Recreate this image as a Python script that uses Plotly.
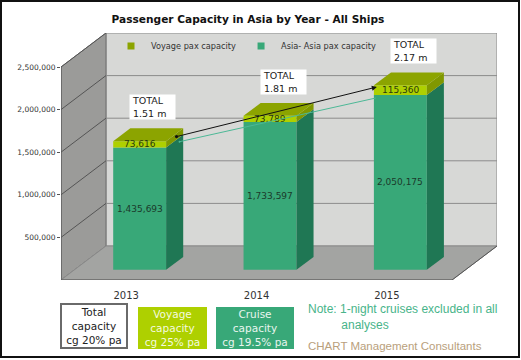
import plotly.graph_objects as go

# ---------------- data ----------------
years = ["2013", "2014", "2015"]
asia_pax = [1435693, 1733597, 2050175]      # Asia- Asia pax capacity
voyage_pax = [73616, 73789, 115360]         # Voyage pax capacity
y_ticks = [500000, 1000000, 1500000, 2000000, 2500000]
growth_boxes = ["Total<br>capacity<br>cg 20% pa",
                "Voyage<br>capacity<br>cg 25% pa",
                "Cruise<br>capacity<br>cg 19.5% pa"]
note_text = "Note: 1-night cruises excluded in all<br>" + "&nbsp;" * 10 + "analyses"
credit = "CHART Management Consultants"

# ---------------- style / geometry ----------------
W, H = 521, 360
ML, MR, MT, MB = 61, 24, 33, 80
YMAX = 2500000
DX = 0.345            # depth offset in x units
DY = 399000           # depth offset in y units
F1, F2 = 0.30, 0.68   # bar front / back depth fractions
BW = 0.406            # bar width

C_GREEN = "#38a878"
C_GREEN_SIDE = "#1f7754"
C_VOY = "#aed000"
C_VOY_TOP = "#8ca400"
C_VOY_SIDE = "#809800"
C_BACK = "#d7d8d6"
C_LEFT = "#9b9b99"
C_FLOOR = "#a3a4a2"
FONT = "DejaVu Sans"

xs = list(range(len(years)))
totals = [a + v for a, v in zip(asia_pax, voyage_pax)]
base0 = F1 * DY
bx = [x + F1 * DX for x in xs]
sdx = (F2 - F1) * DX
sdy = (F2 - F1) * DY

fig = go.Figure()

# front faces
fig.add_trace(go.Bar(x=bx, y=asia_pax, base=[base0] * 3, width=BW,
                     marker=dict(color=C_GREEN, line=dict(width=0)),
                     showlegend=False, hoverinfo="skip"))
fig.add_trace(go.Bar(x=bx, y=voyage_pax, base=[base0 + a for a in asia_pax], width=BW,
                     marker=dict(color=C_VOY, line=dict(width=0)),
                     showlegend=False, hoverinfo="skip"))

# side and top faces computed from the data
for i in xs:
    xl = bx[i] - BW / 2
    xr = bx[i] + BW / 2
    b = base0
    m = base0 + asia_pax[i]
    t = base0 + totals[i]
    for (lo, hi, col) in [(b, m, C_GREEN_SIDE), (m, t, C_VOY_SIDE)]:
        fig.add_trace(go.Scatter(x=[xr, xr + sdx, xr + sdx, xr, xr],
                                 y=[lo, lo + sdy, hi + sdy, hi, lo],
                                 mode="lines", fill="toself", fillcolor=col,
                                 line=dict(width=0, color=col),
                                 showlegend=False, hoverinfo="skip"))
    fig.add_trace(go.Scatter(x=[xl, xr, xr + sdx, xl + sdx, xl],
                             y=[t, t, t + sdy, t + sdy, t],
                             mode="lines", fill="toself", fillcolor=C_VOY_TOP,
                             line=dict(width=0, color=C_VOY_TOP),
                             showlegend=False, hoverinfo="skip"))

# legend entries
fig.add_trace(go.Scatter(x=[None], y=[None], mode="markers", name="Voyage pax capacity",
                         marker=dict(symbol="square", size=7, color=C_VOY_TOP)))
fig.add_trace(go.Scatter(x=[None], y=[None], mode="markers", name="Asia- Asia pax capacity",
                         marker=dict(symbol="square", size=7, color=C_GREEN)))

# ---------------- walls ----------------
x0, x1 = -0.5, len(years) - 0.5
shapes = []
# back wall
shapes.append(dict(type="rect", x0=x0 + DX, x1=x1 + DX, y0=DY, y1=YMAX + DY,
                   fillcolor=C_BACK, line=dict(color="#8a8a8a", width=1), layer="below"))
# left wall
shapes.append(dict(type="path",
                   path=f"M{x0},0 L{x0 + DX},{DY} L{x0 + DX},{YMAX + DY} L{x0},{YMAX} Z",
                   fillcolor=C_LEFT, line=dict(color="#707070", width=1), layer="below"))
# floor
shapes.append(dict(type="path",
                   path=f"M{x0},0 L{x1},0 L{x1 + DX},{DY} L{x0 + DX},{DY} Z",
                   fillcolor=C_FLOOR, line=dict(color="#8a8a8a", width=1), layer="below"))
# grid lines
for v in y_ticks[:-1]:
    shapes.append(dict(type="line", x0=x0 + DX, x1=x1 + DX, y0=v + DY, y1=v + DY,
                       line=dict(color="#8c8c8c", width=1), layer="below"))
for v in y_ticks:
    shapes.append(dict(type="line", x0=x0, x1=x0 + DX, y0=v, y1=v + DY,
                       line=dict(color="#555555", width=1), layer="below"))
# front edges
shapes.append(dict(type="line", x0=x0, x1=x1, y0=0, y1=0,
                   line=dict(color="#555555", width=1), layer="below"))
shapes.append(dict(type="line", x0=x0, x1=x0, y0=0, y1=YMAX,
                   line=dict(color="#555555", width=1), layer="below"))
shapes.append(dict(type="line", x0=x1, x1=x1 + DX, y0=0, y1=DY,
                   line=dict(color="#555555", width=1), layer="below"))

# outer border (paper coords from pixel positions)
def px(p):
    return (p - ML) / (W - ML - MR)

def py(p):
    return (H - MB - p) / (H - MT - MB)

shapes.append(dict(type="rect", xref="paper", yref="paper",
                   x0=px(1), x1=px(519), y0=py(1), y1=py(357),
                   line=dict(color="#111111", width=2), fillcolor="rgba(0,0,0,0)"))

annotations = []
# value labels
for i in xs:
    annotations.append(dict(x=bx[i], y=base0 + asia_pax[i] / 2, text=f"{asia_pax[i]:,}",
                            showarrow=False, font=dict(family=FONT, size=9, color="#1b3a2b")))
    annotations.append(dict(x=bx[i], y=base0 + asia_pax[i] + voyage_pax[i] / 2,
                            text=f"{voyage_pax[i]:,}",
                            showarrow=False, font=dict(family=FONT, size=9, color="#2a3a10")))
    annotations.append(dict(x=xs[i] + 0.025, y=base0 + totals[i], yshift=21,
                            xanchor="left", yanchor="bottom", align="left",
                            text=f"TOTAL<br>{totals[i] / 1e6:.2f} m", showarrow=False,
                            bgcolor="white", borderpad=2, width=41, height=20,
                            font=dict(family=FONT, size=9.5, color="#222222")))

# trend lines
annotations.append(dict(x=xs[2] - 0.085, y=asia_pax[2] + base0 - 34000,
                        ax=xs[0] + 0.398, ay=asia_pax[0] + base0 + 64000,
                        axref="x", ayref="y", text="", showarrow=True,
                        arrowside="start", startarrowhead=6, startarrowsize=0.5,
                        arrowwidth=1, arrowcolor="#4cb896"))
annotations.append(dict(x=xs[2] - 0.077, y=totals[2] + base0 - 20000,
                        ax=xs[0] + 0.375, ay=totals[0] + base0 + 50000,
                        axref="x", ayref="y", text="", showarrow=True,
                        arrowside="end+start", arrowhead=2, arrowsize=1,
                        startarrowhead=6, startarrowsize=0.8,
                        arrowwidth=1, arrowcolor="#111111"))

# growth boxes
box_specs = [(94, 326, "white", "#222222", "#6a6a6a", 2, 64, 42),
             (172.5, 328, C_VOY, "#f4fadf", C_VOY, 0, 69, 42),
             (255, 328, C_GREEN, "#e9f5ef", C_GREEN, 0, 78, 42)]
for txt, (cx, cy, bg, fc, bc, bw, w, h) in zip(growth_boxes, box_specs):
    annotations.append(dict(xref="paper", yref="paper", x=px(cx), y=py(cy),
                            xanchor="center", yanchor="middle", text=txt, showarrow=False,
                            bgcolor=bg, bordercolor=bc, borderwidth=bw, borderpad=0,
                            width=w, height=h, align="center",
                            font=dict(family=FONT, size=10.5, color=fc)))

# notes
annotations.append(dict(xref="paper", yref="paper", x=px(306), y=py(317), xanchor="left",
                        yanchor="middle", text=note_text, showarrow=False, align="left",
                        font=dict(family="Liberation Sans", size=12, color="#48b48a")))
annotations.append(dict(xref="paper", yref="paper", x=px(306), y=py(346), xanchor="left",
                        yanchor="middle", text=credit, showarrow=False,
                        font=dict(family="Liberation Sans", size=11.5, color="#b9a07c")))

fig.update_layout(
    width=W, height=H,
    margin=dict(l=ML, r=MR, t=MT, b=MB, pad=0),
    paper_bgcolor="white", plot_bgcolor="rgba(0,0,0,0)",
    barmode="overlay",
    title=dict(text="<b>Passenger Capacity in Asia by Year - All Ships</b>",
               x=248 / W, xanchor="center", y=1 - 19 / H, yanchor="middle",
               font=dict(family=FONT, size=10.6, color="#111111")),
    showlegend=True,
    legend=dict(orientation="h", x=px(111), xanchor="left", y=py(46), yanchor="middle",
                bgcolor="rgba(0,0,0,0)", font=dict(family=FONT, size=8.2, color="#333333"),
                itemclick=False, itemdoubleclick=False),
    shapes=shapes,
    annotations=annotations,
    xaxis=dict(range=[x0, x1 + DX], tickvals=xs, ticktext=years, showgrid=False,
               zeroline=False, showline=False, ticks="outside", ticklen=6,
               tickcolor="rgba(0,0,0,0)", fixedrange=True,
               tickfont=dict(family=FONT, size=10, color="#333333")),
    yaxis=dict(range=[0, YMAX + DY], tickvals=y_ticks, tickformat=",d", showgrid=False,
               zeroline=False, showline=False, ticks="outside", ticklen=3,
               tickcolor="#555555", fixedrange=True,
               tickfont=dict(family=FONT, size=7.5, color="#333333")),
)

fig.write_html("out.html", config={"displayModeBar": False},
               post_script="document.body.style.margin='0';")
